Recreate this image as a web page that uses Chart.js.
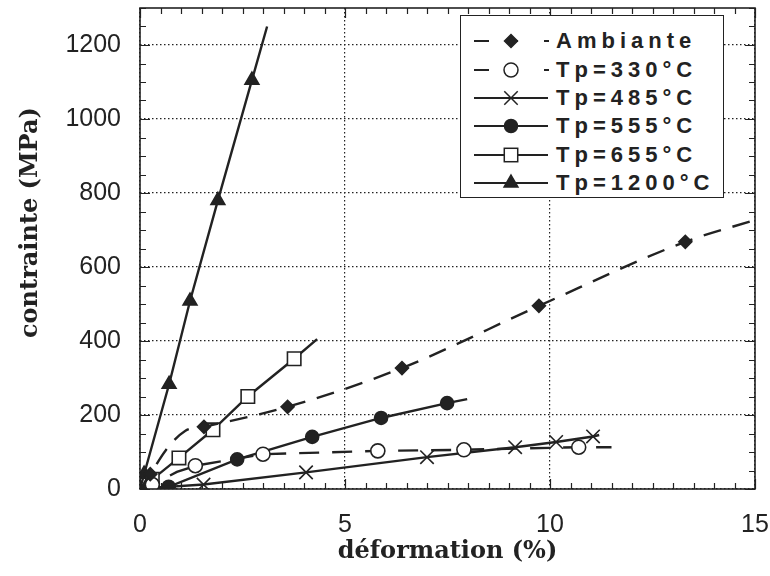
<!DOCTYPE html>
<html>
<head>
<meta charset="utf-8">
<script src="https://cdn.jsdelivr.net/npm/chart.js@4.4.1/dist/chart.umd.min.js"></script>
<style>
  html, body { margin: 0; padding: 0; background: #fff; }
  #wrap { position: relative; width: 770px; height: 576px; }
  #legend {
    position: absolute; left: 460px; top: 15px; width: 264px; height: 183px;
    border: 1.5px solid #222; background: #fff; box-sizing: border-box; padding-top: 11px;
  }
  .row { display: flex; align-items: center; height: 28.4px; }
  .row svg { flex: none; width: 95px; height: 28px; }
  .row span { font: bold 22px "Liberation Sans", Arial, sans-serif; letter-spacing: 5px; color: #222; white-space: nowrap; }
</style>
</head>
<body>
<div id="wrap">
  <canvas id="chart" width="770" height="576"></canvas>
  <div id="legend"></div>
</div>
<script>
// --- data (x = déformation %, y = contrainte MPa) ---
const seriesLabels = ['Ambiante', 'Tp=330°C', 'Tp=485°C', 'Tp=555°C', 'Tp=655°C', 'Tp=1200°C'];
const xTitle = 'déformation (%)';
const yTitle = 'contrainte (MPa)';

const ambX = [0, 0.25, 0.63, 1.1, 1.56, 3.6, 6.39, 9.73, 13.3, 15];
const ambY = [0, 40, 105, 157, 168, 222, 327, 495, 668, 727];
const ambMark = [0, 1, 0, 0, 1, 1, 1, 1, 1, 0];

const t330X = [0, 0.3, 0.9, 1.35, 3.0, 5.8, 7.9, 10.7, 11.5];
const t330Y = [0, 12, 46, 63, 94, 103, 106, 113, 113];
const t330Mark = [0, 1, 0, 1, 1, 1, 1, 1, 0];

const t485X = [0, 0.3, 1.55, 4.05, 7.0, 9.15, 10.15, 11.05, 11.2];
const t485Y = [0, 3, 12, 45, 86, 113, 127, 142, 146];
const t485Mark = [0, 1, 1, 1, 1, 1, 1, 1, 0];

const t555X = [0, 0.7, 2.37, 4.2, 5.88, 7.49, 7.98];
const t555Y = [0, 6, 80, 141, 192, 232, 243];
const t555Mark = [0, 1, 1, 1, 1, 1, 0];

const t655X = [0, 0.3, 0.95, 1.78, 2.63, 3.76, 4.32];
const t655Y = [0, 26, 84, 160, 250, 352, 405];
const t655Mark = [0, 1, 1, 1, 1, 1, 0];

const t1200X = [0, 0.1, 0.71, 1.22, 1.9, 2.73, 3.1];
const t1200Y = [0, 40, 283, 508, 780, 1105, 1250];
const t1200Mark = [0, 1, 1, 1, 1, 1, 0];

const xTicks = [0, 5, 10, 15];
const yTicks = [0, 200, 400, 600, 800, 1000, 1200];

const INK = '#222';

function pts(xs, ys) { return xs.map((x, i) => ({ x, y: ys[i] })); }

// marker styles per series
const styles = [
  { style: 'rectRot',  r: 6.5, fill: INK,    dash: [18, 12], mono: true },
  { style: 'circle',   r: 7,   fill: '#fff', dash: [20, 13], mono: false },
  { style: 'crossRot', r: 9.5, fill: INK,    dash: [],       mono: false },
  { style: 'circle',   r: 6.5, fill: INK,    dash: [],       mono: false },
  { style: 'rect',     r: 9.5, fill: '#fff', dash: [],       mono: false },
  { style: 'triangle', r: 8,   fill: INK,    dash: [],       mono: false }
];
const allX = [ambX, t330X, t485X, t555X, t655X, t1200X];
const allY = [ambY, t330Y, t485Y, t555Y, t655Y, t1200Y];
const allMark = [ambMark, t330Mark, t485Mark, t555Mark, t655Mark, t1200Mark];

const datasets = seriesLabels.map((label, k) => {
  const s = styles[k];
  return {
    label,
    data: pts(allX[k], allY[k]),
    showLine: true,
    borderColor: INK,
    borderWidth: 2.4,
    borderDash: s.dash,
    cubicInterpolationMode: s.mono ? 'monotone' : 'default',
    tension: 0,
    pointStyle: s.style,
    pointRadius: ctx => allMark[k][ctx.dataIndex] ? s.r : 0,
    pointBackgroundColor: s.fill,
    pointBorderColor: INK,
    pointBorderWidth: 1.6
  };
});

// inward minor/major ticks on all four sides, the frame, and the y title
const frameTicks = {
  id: 'frameTicks',
  afterDatasetsDraw(chart) {
    const { ctx, chartArea: a, scales: { x, y } } = chart;
    ctx.save();
    ctx.strokeStyle = INK;
    ctx.lineWidth = 1.2;
    ctx.beginPath();
    for (let i = 0; i <= 30; i++) {
      const v = i * 0.5;
      const px = Math.round(x.getPixelForValue(v)) + 0.5;
      const len = i % 10 === 0 ? 10 : 6;
      ctx.moveTo(px, a.bottom); ctx.lineTo(px, a.bottom - len);
      ctx.moveTo(px, a.top); ctx.lineTo(px, a.top + len);
    }
    for (let i = 0; i <= 26; i++) {
      const v = i * 50;
      const py = Math.round(y.getPixelForValue(v)) + 0.5;
      const len = i % 4 === 0 ? 10 : 6;
      ctx.moveTo(a.left, py); ctx.lineTo(a.left + len, py);
      ctx.moveTo(a.right, py); ctx.lineTo(a.right - len, py);
    }
    ctx.stroke();
    ctx.lineWidth = 1.6;
    ctx.strokeRect(a.left, a.top, a.right - a.left, a.bottom - a.top);

    // y title sits a bit above the middle of the axis in the original
    ctx.translate(31, y.getPixelForValue(720));
    ctx.rotate(-Math.PI / 2);
    ctx.font = 'bold 24px "DejaVu Serif", serif';
    ctx.fillStyle = INK;
    ctx.textAlign = 'center';
    ctx.textBaseline = 'middle';
    ctx.fillText(yTitle, 0, 0);
    ctx.restore();
  }
};

const tickFont = { family: '"Liberation Sans", Arial, sans-serif', size: 25 };
const titleFont = { family: '"DejaVu Serif", serif', size: 24, weight: 'bold' };

// fixed box sizes, and no extra edge padding asked by the tick labels
function fixBox(w, h) {
  return s => {
    if (w) s.width = w;
    if (h) s.height = h;
    s.paddingTop = 0; s.paddingBottom = 0; s.paddingLeft = 0; s.paddingRight = 0;
  };
}

new Chart(document.getElementById('chart'), {
  type: 'scatter',
  data: { datasets },
  options: {
    responsive: false,
    animation: false,
    devicePixelRatio: 1,
    layout: { padding: { top: 8, right: 15, left: 0, bottom: 0 } },
    plugins: { legend: { display: false }, tooltip: { enabled: false } },
    scales: {
      x: {
        type: 'linear', min: 0, max: 15,
        afterBuildTicks: s => { s.ticks = xTicks.map(v => ({ value: v })); },
        ticks: { font: tickFont, color: INK, padding: 21, maxRotation: 0, autoSkip: false, callback: v => String(v) },
        grid: { color: INK, lineWidth: 1.2, drawTicks: false },
        border: { display: false, dash: [1.5, 2.5] },
        title: { display: true, text: xTitle, font: titleFont, color: INK, padding: { top: 0, bottom: 10 } },
        afterFit: fixBox(0, 87)
      },
      y: {
        type: 'linear', min: 0, max: 1300,
        afterBuildTicks: s => { s.ticks = yTicks.map(v => ({ value: v })); },
        ticks: { font: tickFont, color: INK, padding: 19, autoSkip: false, callback: v => String(v) },
        grid: { color: INK, lineWidth: 1.2, drawTicks: false },
        border: { display: false, dash: [1.5, 2.5] },
        title: { display: false },
        afterFit: fixBox(140, 0)
      }
    }
  },
  plugins: [frameTicks]
});

// legend: line sample + marker + text
function markerSvg(s, cx, cy) {
  const f = s.fill, st = `fill="${f}" stroke="${INK}" stroke-width="1.5"`;
  const r = s.r;
  if (s.style === 'rectRot') return `<polygon points="${cx - r},${cy} ${cx},${cy - r} ${cx + r},${cy} ${cx},${cy + r}" ${st}/>`;
  if (s.style === 'circle') return `<circle cx="${cx}" cy="${cy}" r="${r}" ${st}/>`;
  if (s.style === 'crossRot') { const d = r * Math.SQRT1_2; return `<path d="M${cx - d},${cy - d}L${cx + d},${cy + d}M${cx + d},${cy - d}L${cx - d},${cy + d}" stroke="${INK}" stroke-width="1.5"/>`; }
  if (s.style === 'rect') { const h = r * Math.SQRT1_2; return `<rect x="${cx - h}" y="${cy - h}" width="${2 * h}" height="${2 * h}" ${st}/>`; }
  if (s.style === 'triangle') return `<polygon points="${cx},${cy - r} ${cx + r * 0.866},${cy + r / 2} ${cx - r * 0.866},${cy + r / 2}" ${st}/>`;
  return '';
}
const legend = document.getElementById('legend');
legend.innerHTML = seriesLabels.map((label, k) => {
  const s = styles[k];
  const cy = 14, cx = 50;
  const line = s.dash.length
    ? `<path d="M13,${cy}H28M45,${cy}H57M83,${cy}H88" stroke="${INK}" stroke-width="2.2"/>`
    : `<path d="M13,${cy}H87" stroke="${INK}" stroke-width="2.2"/>`;
  return `<div class="row"><svg viewBox="0 0 95 28">${line}${markerSvg(s, cx, cy)}</svg><span>${label}</span></div>`;
}).join('');
</script>
</body>
</html>
